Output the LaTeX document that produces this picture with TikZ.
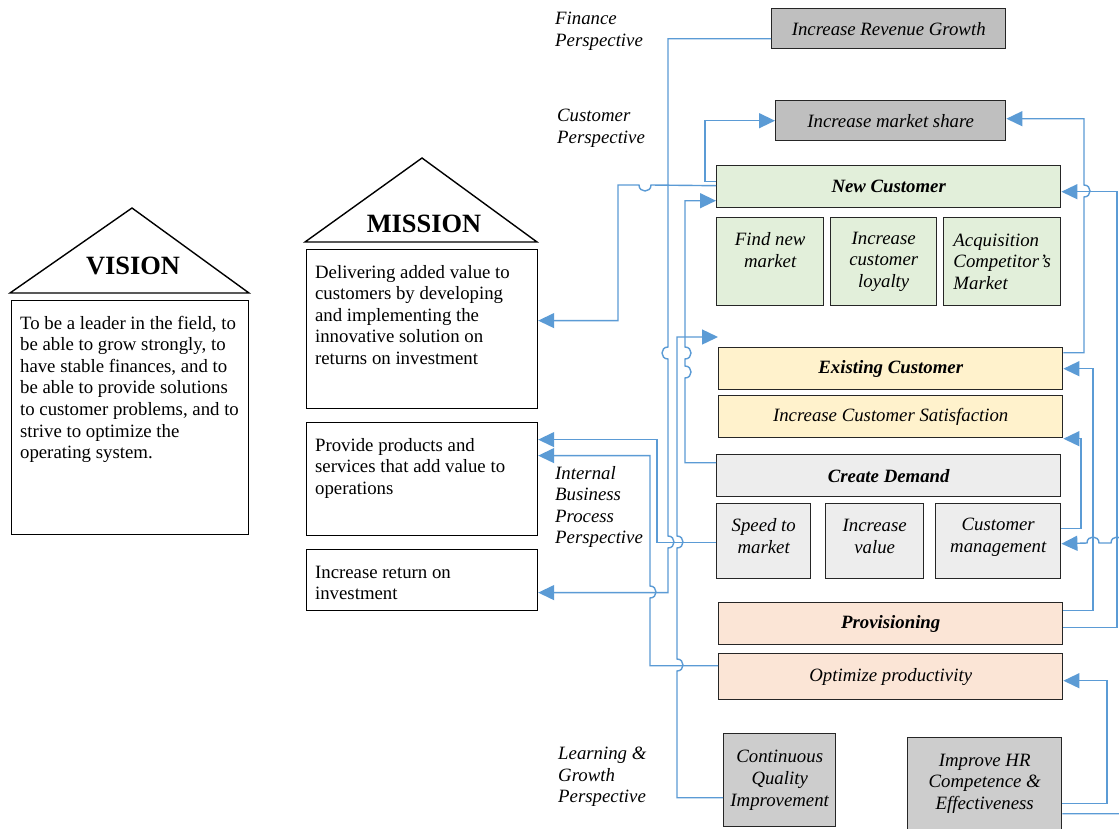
\documentclass[tikz,border=0pt]{standalone}
\usepackage{fontspec}
\setmainfont{Liberation Serif}
\usetikzlibrary{arrows.meta}
\definecolor{lblue}{HTML}{5B9BD5}
\definecolor{gA}{HTML}{BFBFBF}
\definecolor{gB}{HTML}{CDCDCD}
\definecolor{gC}{HTML}{EDEDED}
\definecolor{grn}{HTML}{E2EFDA}
\definecolor{yel}{HTML}{FFF2CC}
\definecolor{pch}{HTML}{FBE5D6}
\newcommand\myfs{\fontsize{18.8}{21.6}\selectfont}
\newcommand\bigfs{\fontsize{26.4}{30}\selectfont}
\newcommand\tbx[3]{\begin{minipage}[c][#1][t]{#2}\raggedright\rule{0pt}{28.5pt}#3\end{minipage}}
\tikzset{
 bx/.style={draw=black!85, line width=1.4pt, inner sep=2pt, align=center, anchor=north west, font=\myfs\itshape},
 hd/.style={bx, font=\myfs\bfseries\itshape},
 tb/.style={draw=black, line width=1.2pt, inner xsep=8.5pt, inner ysep=0pt, anchor=north west, font=\myfs},
 lbl/.style={font=\myfs\itshape, align=left, inner sep=0pt, anchor=west},
 ttl/.style={font=\bigfs\bfseries, inner sep=0pt},
 tri/.style={draw=black, line width=1.4pt, line join=miter},
 conn/.style={draw=lblue, line width=1.4pt, -{Triangle[length=16pt,width=15pt]}}
}
\begin{document}
\begin{tikzpicture}[x=1pt,y=-1pt]
\useasboundingbox[fill=white] (0,0) rectangle (1119,828);

% Vision
\draw[tri] (10,293) -- (132,208) -- (249,293) -- cycle;
\node[ttl] (visT) at (133,266) {VISION};
\node[tb] (vis) at (11,300) {\tbx{234pt}{220pt}{To be a leader in the field, to\\be able to grow strongly, to\\have stable finances, and to\\be able to provide solutions\\to customer problems, and to\\strive to optimize the\\operating system.}};

% Mission
\draw[tri] (305,242) -- (422,158) -- (537,242) -- cycle;
\node[ttl] (misT) at (424,224) {MISSION};
\node[tb] (deliv) at (306,249) {\tbx{159pt}{214pt}{Delivering added value to\\customers by developing\\and implementing the\\innovative solution on\\returns on investment}};
\node[tb] (prov) at (306,422) {\tbx{113pt}{214pt}{Provide products and\\services that add value to\\operations}};
\node[tb] (ret) at (306,549) {\tbx{61pt}{214pt}{Increase return on\\investment}};

% Perspective labels
\node[lbl] (finL) at (555,31) {Finance\\Perspective};
\node[lbl] (cusL) at (557,128) {Customer\\Perspective};
\node[lbl] (intL) at (555,507) {Internal\\Business\\Process\\Perspective};
\node[lbl] (lrnL) at (558,777) {Learning \&\\Growth\\Perspective};

% Right column boxes
\node[bx, fill=gA, minimum width=234, minimum height=40] (rev) at (771,8) {Increase Revenue Growth};
\node[bx, fill=gA, minimum width=230, minimum height=40] (ims) at (775,100) {Increase market share};
\node[hd, fill=grn, minimum width=344, minimum height=42] (newc) at (716,165) {New Customer};
\node[bx, fill=grn, minimum width=107, minimum height=88] (fnm) at (716,217) {Find new\\market\\[-5pt]\strut};
\node[bx, fill=grn, minimum width=106, minimum height=88] (icl) at (830,217) {Increase\\customer\\loyalty};
\node[bx, fill=grn, minimum width=117, minimum height=88, align=left] (acm) at (943,217) {Acquisition\\Competitor’s\\Market};
\node[hd, fill=yel, minimum width=344, minimum height=42] (exist) at (718,347) {Existing Customer};
\node[bx, fill=yel, minimum width=344, minimum height=42] (sat) at (718,395) {Increase Customer Satisfaction};
\node[hd, fill=gC, minimum width=344, minimum height=42] (create) at (716,454) {Create Demand};
\node[bx, fill=gC, minimum width=94, minimum height=75] (speed) at (716,503) {Speed to\\market\\[-18pt]\strut};
\node[bx, fill=gC, minimum width=98, minimum height=75] (iv) at (825,503) {Increase\\value\\[-18pt]\strut};
\node[bx, fill=gC, minimum width=125, minimum height=75] (cm) at (935,503) {Customer\\management\\[-16pt]\strut};
\node[hd, fill=pch, minimum width=344, minimum height=42] (provis) at (718,602) {Provisioning};
\node[bx, fill=pch, minimum width=344, minimum height=46] (opt) at (718,653) {Optimize productivity};
\node[bx, fill=gB, minimum width=112, minimum height=93] (cqi) at (723,733) {Continuous\\Quality\\Improvement};
\node[bx, fill=gB, minimum width=154, minimum height=92] (hr) at (907,737) {Improve HR\\Competence \&\\Effectiveness};

% Connectors
\draw[conn] ([yshift=-10pt]rev.west) -| (668,347) .. controls (660,347) and (660,359) .. (668,359) -- (668,536) .. controls (676,536) and (676,548) .. (668,548) |- ([yshift=-12.5pt]ret.east);
\draw[conn] ([yshift=1pt]newc.west) -- (651,185) .. controls (651,193) and (639,193) .. (639,185) -| (618,260) |- ([yshift=8.5pt]deliv.east);
\draw[conn] ([yshift=5pt]newc.west) -| (705,150) |- (ims.west);
\draw[conn] ([yshift=13pt]create.west) -| (685,378) .. controls (693,378) and (693,366) .. (685,366) -- (685,359) .. controls (693,359) and (693,347) .. (685,347) |- ([yshift=-14pt]newc.west);
\draw[conn] ([yshift=-1.5pt]speed.west) -| (657,480) |- ([yshift=39.5pt]prov.east);
\draw[conn] ([yshift=11pt]opt.west) -| (650,598) .. controls (658,598) and (658,586) .. (650,586) |- ([yshift=23.5pt]prov.east);
\draw[conn] ([yshift=-17.5pt]cqi.west) -| (677,671) .. controls (685,671) and (685,659) .. (677,659) -- (677,548) .. controls (685,548) and (685,536) .. (677,536) |- ([yshift=10pt]exist.north west);
\draw[conn] ([yshift=16pt]exist.east) -| (1084,197) .. controls (1092,197) and (1092,185) .. (1084,185) |- ([yshift=2pt]ims.east);
\draw[conn] ([yshift=-4pt]provis.east) -| (1117,400) |- ([yshift=-5pt]newc.east);
\draw[conn] ([yshift=13pt]provis.east) -| (1093,450) |- (exist.east);
\draw[conn] ([yshift=12.5pt]cm.east) -| (1081,480) |- ([yshift=-22pt]sat.east);
\draw[conn] ([yshift=-30pt]hr.east) -| (1127,543) -- (1123,543) .. controls (1123,535) and (1111,535) .. (1111,543) -- (1099,543) .. controls (1099,535) and (1087,535) .. (1087,543) -- ([yshift=-2.5pt]cm.east);
\draw[conn] ([yshift=-20pt]hr.east) -| (1107,740) |- ([yshift=-4pt]opt.east);
\end{tikzpicture}
\end{document}
